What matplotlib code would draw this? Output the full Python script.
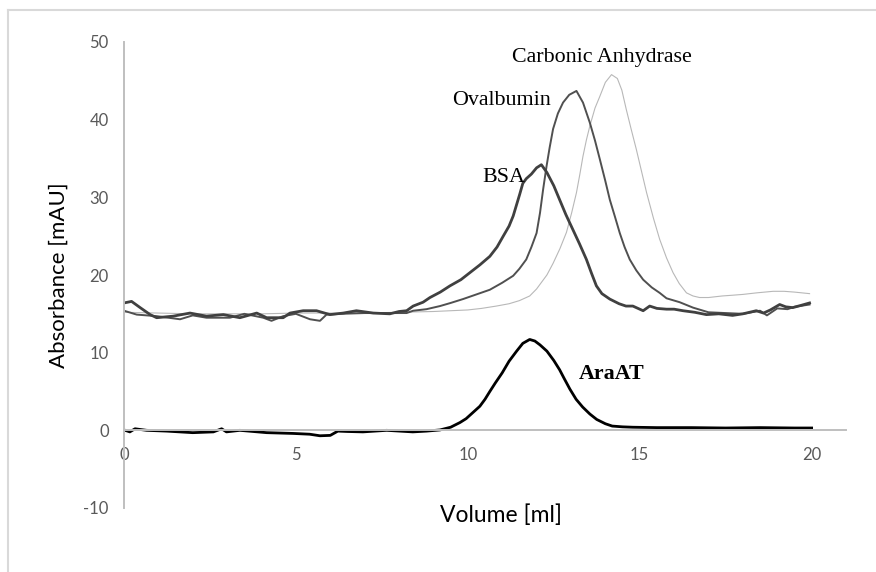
import matplotlib.pyplot as plt
from matplotlib.lines import Line2D

plt.rcParams['axes.unicode_minus'] = False

# AraAT elution profile
ara_x = [0, 0.17, 0.32, 0.66, 1.24, 2.0, 2.6, 2.84, 2.98, 3.37, 4.15, 4.92, 5.4, 5.7, 6.0,
         6.22, 6.5, 6.95, 7.64, 8.4, 8.8, 9.19, 9.5, 9.77, 9.95, 10.15, 10.35, 10.5, 10.64,
         10.8, 11.0, 11.2, 11.42, 11.6, 11.8, 11.95, 12.1, 12.3, 12.5, 12.67, 12.8, 12.97,
         13.15, 13.34, 13.55, 13.75, 14.0, 14.2, 14.5, 14.8, 15.5, 16.5, 17.5, 18.5, 19.5, 20.0]
ara_y = [0.05, -0.2, 0.2, 0.0, -0.1, -0.3, -0.2, 0.2, -0.2, 0.0, -0.3, -0.4, -0.5, -0.7, -0.65,
         -0.1, -0.15, -0.2, 0.0, -0.2, -0.1, 0.05, 0.4, 1.0, 1.5, 2.3, 3.1, 4.0, 5.0,
         6.1, 7.4, 8.9, 10.2, 11.2, 11.7, 11.5, 11.0, 10.2, 9.0, 7.8, 6.7, 5.3,
         4.0, 3.0, 2.1, 1.4, 0.85, 0.55, 0.45, 0.4, 0.35, 0.35, 0.3, 0.35, 0.3, 0.3]

# BSA standard
bsa_x = [0, 0.22, 0.47, 0.76, 0.95, 1.43, 1.92, 2.4, 2.89, 3.37, 3.86, 4.15, 4.63, 4.83, 5.21,
         5.6, 5.99, 6.38, 6.76, 7.25, 7.73, 8.0, 8.22, 8.41, 8.7, 8.9, 9.2, 9.48, 9.8, 10.06,
         10.35, 10.64, 10.85, 11.03, 11.2, 11.32, 11.51, 11.6, 11.7, 11.85, 12.0, 12.14, 12.3,
         12.5, 12.67, 12.85, 13.05, 13.25, 13.45, 13.6, 13.74, 13.9, 14.13, 14.4, 14.6, 14.8,
         15.1, 15.29, 15.5, 15.78, 16.0, 16.26, 16.6, 16.94, 17.3, 17.7, 18.0, 18.39, 18.6,
         18.8, 19.07, 19.25, 19.45, 19.7, 19.94]
bsa_y = [16.4, 16.6, 15.8, 14.9, 14.5, 14.7, 15.1, 14.7, 14.9, 14.5, 15.1, 14.5, 14.5, 15.1, 15.4,
         15.4, 14.9, 15.1, 15.4, 15.1, 15.0, 15.3, 15.4, 16.0, 16.5, 17.1, 17.8, 18.6, 19.4, 20.3,
         21.3, 22.4, 23.6, 25.0, 26.3, 27.6, 30.4, 31.8, 32.4, 33.0, 33.8, 34.2, 33.2,
         31.5, 29.7, 27.8, 25.9, 24.0, 22.0, 20.2, 18.6, 17.6, 16.9, 16.3, 16.0, 16.0,
         15.4, 16.0, 15.7, 15.6, 15.6, 15.4, 15.2, 14.9, 15.0, 14.8, 15.0, 15.4, 15.1,
         15.5, 16.2, 15.9, 15.8, 16.1, 16.4]

# Ovalbumin standard
ova_x = [0, 0.37, 0.95, 1.63, 2.0, 2.4, 3.08, 3.5, 4.05, 4.29, 4.63, 5.0, 5.41, 5.7, 5.89,
         6.3, 7.0, 7.44, 8.22, 8.41, 8.8, 9.19, 9.5, 9.86, 10.25, 10.64, 11.0, 11.32, 11.5,
         11.7, 11.85, 12.0, 12.1, 12.19, 12.29, 12.38, 12.48, 12.62, 12.77, 12.95, 13.16,
         13.35, 13.55, 13.7, 13.84, 14.0, 14.13, 14.28, 14.42, 14.56, 14.71, 14.9, 15.1,
         15.35, 15.58, 15.78, 16.16, 16.55, 17.0, 17.5, 18.0, 18.5, 18.7, 19.0, 19.3, 19.5, 19.94]
ova_y = [15.4, 14.9, 14.7, 14.3, 14.8, 14.5, 14.5, 15.0, 14.5, 14.1, 14.7, 15.0, 14.3, 14.1, 14.9,
         15.0, 15.1, 15.1, 15.1, 15.4, 15.6, 16.0, 16.4, 16.9, 17.5, 18.1, 19.0, 19.9, 20.8,
         22.0, 23.6, 25.4, 28.0, 31.0, 34.0, 36.4, 38.8, 40.8, 42.2, 43.2, 43.7,
         42.2, 39.6, 37.3, 34.9, 32.1, 29.7, 27.5, 25.4, 23.6, 22.0, 20.6, 19.4,
         18.4, 17.7, 17.0, 16.5, 15.8, 15.2, 15.1, 15.0, 15.4, 14.8, 15.7, 15.6, 15.9, 16.2]

# Carbonic anhydrase standard
ca_x = [0, 1, 2, 3, 4, 5, 6, 7, 8, 9, 9.5, 10, 10.4, 10.83, 11.2, 11.5, 11.8, 12.0, 12.1,
        12.3, 12.48, 12.68, 12.87, 13.02, 13.16, 13.26, 13.35, 13.45, 13.55, 13.7, 13.84,
        14.0, 14.18, 14.35, 14.48, 14.61, 14.75, 14.9, 15.05, 15.2, 15.4, 15.58, 15.78,
        15.97, 16.15, 16.36, 16.55, 16.74, 17.0, 17.4, 17.71, 18.0, 18.4, 18.88, 19.2, 19.5, 19.94]
ca_y = [15.2, 15.1, 15.0, 15.0, 15.0, 15.1, 15.1, 15.1, 15.2, 15.3, 15.4, 15.5, 15.7, 16.0,
        16.3, 16.7, 17.3, 18.2, 18.8, 20.0, 21.5, 23.4, 25.5, 28.0, 30.6, 33.0, 35.3, 37.4,
        39.2, 41.5, 43.0, 44.8, 45.8, 45.3, 43.8, 41.3, 38.8, 36.2, 33.4, 30.6, 27.3, 24.6,
        22.2, 20.3, 18.9, 17.7, 17.3, 17.1, 17.1, 17.3, 17.4, 17.5, 17.7, 17.9, 17.9, 17.8, 17.6]

xticks = [0, 5, 10, 15, 20]
yticks = [-10, 0, 10, 20, 30, 40, 50]

fig = plt.figure(figsize=(8.76, 5.72), dpi=100)
ax = fig.add_axes([124 / 876, 1 - 508 / 572, 722 / 876, 466 / 572])

ax.plot(ca_x, ca_y, color='#b8b8b8', lw=0.8)
ax.plot(ova_x, ova_y, color='#505050', lw=1.4)
ax.plot(bsa_x, bsa_y, color='#404040', lw=2.0)
ax.plot(ara_x, ara_y, color='black', lw=2.0)

ax.set_xlim(0, 21)
ax.set_ylim(-10, 50)
ax.set_xticks(xticks)
ax.set_yticks(yticks)

for s in ['top', 'right']:
    ax.spines[s].set_visible(False)
ax.spines['bottom'].set_position(('data', 0))
for s in ['left', 'bottom']:
    ax.spines[s].set_color('#bfbfbf')
    ax.spines[s].set_linewidth(1.4)
ax.tick_params(axis='both', length=0, labelsize=12, labelcolor='#595959')
ax.tick_params(axis='x', pad=12)
ax.tick_params(axis='y', pad=11)
for lab in ax.get_xticklabels() + ax.get_yticklabels():
    lab.set_fontfamily('Lato')

ax.set_xlabel('Volume [ml]', fontsize=16.5, family='Lato', va='center')
ax.xaxis.set_label_coords(0.522, -0.016)
ax.set_ylabel('Absorbance [mAU]', fontsize=16, family='Lato', va='center')
ax.yaxis.set_label_coords(-0.09, 0.5)

ax.text(13.9, 48.0, 'Carbonic Anhydrase', family='Liberation Serif', fontsize=15.8,
        ha='center', va='center')
ax.text(10.97, 42.5, 'Ovalbumin', family='Liberation Serif', fontsize=15.8,
        ha='center', va='center')
ax.text(11.05, 32.5, 'BSA', family='Liberation Serif', fontsize=15.8,
        ha='center', va='center')
ax.text(14.17, 7.2, 'AraAT', family='Liberation Serif', fontsize=15.8, fontweight='bold',
        ha='center', va='center')

# outer frame of the pasted chart
fig.add_artist(Line2D([8 / 876, 1], [1 - 10 / 572, 1 - 10 / 572], color='#d9d9d9', lw=1.5))
fig.add_artist(Line2D([8 / 876, 8 / 876], [0, 1 - 10 / 572], color='#d9d9d9', lw=1.5))

fig.savefig('out.png', dpi=100)
